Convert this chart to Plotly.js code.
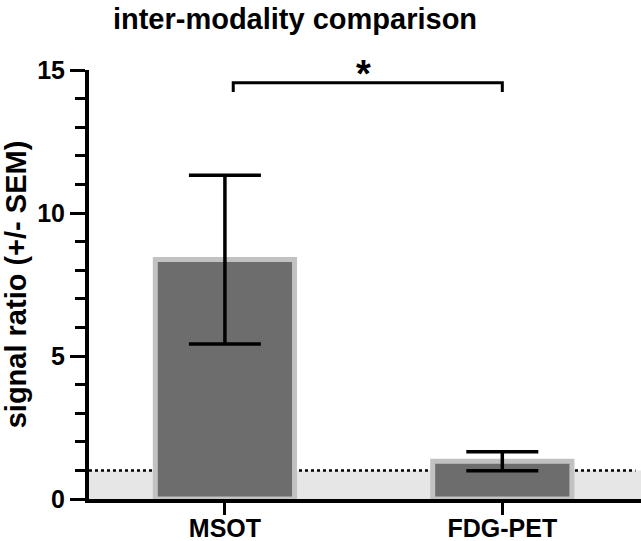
<!DOCTYPE html>
<html>
<head>
<meta charset="utf-8">
<script src="https://cdn.plot.ly/plotly-3.0.1.min.js"></script>
<style>html,body{margin:0;padding:0;background:#fff;}#chart{width:641px;height:541px;}</style>
</head>
<body>
<div id="chart"></div>
<script>
// Data
const categories = ["MSOT", "FDG-PET"];
const meanValues = [8.37, 1.32];
const semValues = [2.95, 0.33];
const baselineValue = 1;
const yTickValues = [0, 5, 10, 15];
const yTickLabels = ["0", "5", "10", "15"];
const significanceLabel = "*";

const FONT = "Liberation Sans, Arial, sans-serif";

const trace = {
  type: "bar",
  x: [0, 1],
  y: meanValues,
  width: 0.502,
  marker: { color: "#6d6d6d", line: { color: "#c2c2c2", width: 5 } },
  error_y: { type: "data", array: semValues, visible: true, color: "#000", thickness: 3.5, width: 36 },
  hoverinfo: "skip"
};

const layout = {
  width: 641, height: 541,
  margin: { l: 89, r: 0, t: 70, b: 42 },
  paper_bgcolor: "#fff", plot_bgcolor: "rgba(0,0,0,0)",
  showlegend: false,
  title: {
    text: "inter-modality comparison",
    font: { family: FONT, size: 29, color: "#000", weight: "bold" },
    x: 295 / 641, xanchor: "center", xref: "container",
    y: 1 - 19 / 541, yanchor: "middle", yref: "container"
  },
  xaxis: {
    range: [-0.49, 1.5],
    tickmode: "array", tickvals: [0, 1], ticktext: categories,
    showline: true, linewidth: 4, linecolor: "#000",
    ticks: "outside", ticklen: 12, tickwidth: 3, tickcolor: "#000",
    ticklabelstandoff: -8,
    showgrid: false, zeroline: false,
    tickfont: { family: FONT, size: 25, color: "#000", weight: "bold" },
    fixedrange: true
  },
  yaxis: {
    range: [0, 15],
    tickmode: "array", tickvals: yTickValues, ticktext: yTickLabels,
    showline: true, linewidth: 4, linecolor: "#000",
    ticks: "outside", ticklen: 15, tickwidth: 3, tickcolor: "#000",
    minor: { dtick: 1, ticks: "outside", ticklen: 10, tickwidth: 3, tickcolor: "#000", showgrid: false },
    showgrid: false, zeroline: false,
    tickfont: { family: FONT, size: 25, color: "#000", weight: "bold" },
    title: { text: "signal ratio (+/- SEM)", font: { family: FONT, size: 29, color: "#000", weight: "bold" }, standoff: 12 },
    fixedrange: true
  },
  shapes: [
    { type: "rect", layer: "below", xref: "paper", x0: 0, x1: 1, yref: "y", y0: 0, y1: baselineValue,
      fillcolor: "#e6e6e6", line: { width: 0 } },
    { type: "line", layer: "below", xref: "paper", x0: 0, x1: 0.99, yref: "y", y0: baselineValue, y1: baselineValue,
      line: { color: "#000", width: 2.5, dash: "dot" } },
    { type: "path", layer: "above", xref: "x", yref: "y",
      path: "M 0.03 14.23 L 0.03 14.55 L 1 14.55 L 1 14.23",
      line: { color: "#000", width: 3 } }
  ],
  annotations: [
    { xref: "x", yref: "y", x: 0.5, y: 14.05, text: significanceLabel, showarrow: false,
      xanchor: "center", yanchor: "bottom",
      font: { family: FONT, size: 38, color: "#000", weight: "bold" } }
  ]
};

Plotly.newPlot("chart", [trace], layout, { displayModeBar: false, staticPlot: true });
</script>
</body>
</html>
